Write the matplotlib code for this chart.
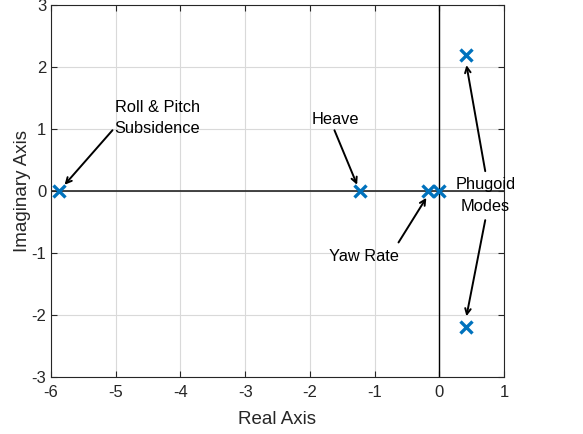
import numpy as np
import matplotlib.pyplot as plt

plt.rcParams['font.family'] = ['Liberation Sans', 'DejaVu Sans']
plt.rcParams['axes.unicode_minus'] = False

# pole locations
pole_re = [-5.87, -1.23, -0.18, 0.0, 0.42, 0.42]
pole_im = [0.0, 0.0, 0.0, 0.0, 2.19, -2.19]

x_ticks = [-6, -5, -4, -3, -2, -1, 0, 1]
y_ticks = [-3, -2, -1, 0, 1, 2, 3]

fig = plt.figure(figsize=(5.83, 4.34), dpi=100)
ax = fig.add_axes([51 / 583, 1 - 377 / 434, 453 / 583, 372 / 434])

ax.axhline(0, color='#262626', lw=1.2, zorder=1)
ax.axvline(0, color='black', lw=1.0, zorder=1)
ax.plot(pole_re, pole_im, 'x', color='#0072BD', markersize=8, mew=2.4, zorder=3)

ax.set_xlim(-6, 1)
ax.set_ylim(-3, 3)
ax.set_xticks(x_ticks)
ax.set_yticks(y_ticks)
ax.grid(True, color='#d9d9d9', lw=0.8)
ax.set_axisbelow(True)
ax.tick_params(direction='in', top=True, right=True, labelsize=12,
               colors='#262626', length=4)
ax.tick_params(axis='x', pad=6)
for s in ax.spines.values():
    s.set_color('#262626')
    s.set_linewidth(0.8)

ax.set_xlabel('Real Axis', fontsize=13.5, color='#262626', labelpad=8)
ax.set_ylabel('Imaginary Axis', fontsize=13.5, color='#262626', labelpad=0)

arrow = dict(arrowstyle='->', color='black', lw=1.4, shrinkA=0, shrinkB=0)
fs = 11.8

ax.annotate('', xy=(-5.79, 0.1), xytext=(-5.05, 0.98), arrowprops=arrow)
ax.text(-4.36, 1.18, 'Roll & Pitch\nSubsidence', ha='center', va='center',
        fontsize=fs, linespacing=1.55)

ax.annotate('', xy=(-1.27, 0.1), xytext=(-1.62, 0.98), arrowprops=arrow)
ax.text(-1.6, 1.16, 'Heave', ha='center', va='center', fontsize=fs)

ax.annotate('', xy=(-0.2, -0.11), xytext=(-0.63, -0.83), arrowprops=arrow)
ax.text(-1.17, -1.05, 'Yaw Rate', ha='center', va='center', fontsize=fs)

ax.annotate('', xy=(0.42, 2.03), xytext=(0.71, 0.32), arrowprops=arrow)
ax.annotate('', xy=(0.42, -2.02), xytext=(0.71, -0.47), arrowprops=arrow)
ax.text(0.71, -0.07, 'Phugoid\nModes', ha='center', va='center',
        fontsize=fs, linespacing=1.55)

fig.savefig('out.png', dpi=100)
